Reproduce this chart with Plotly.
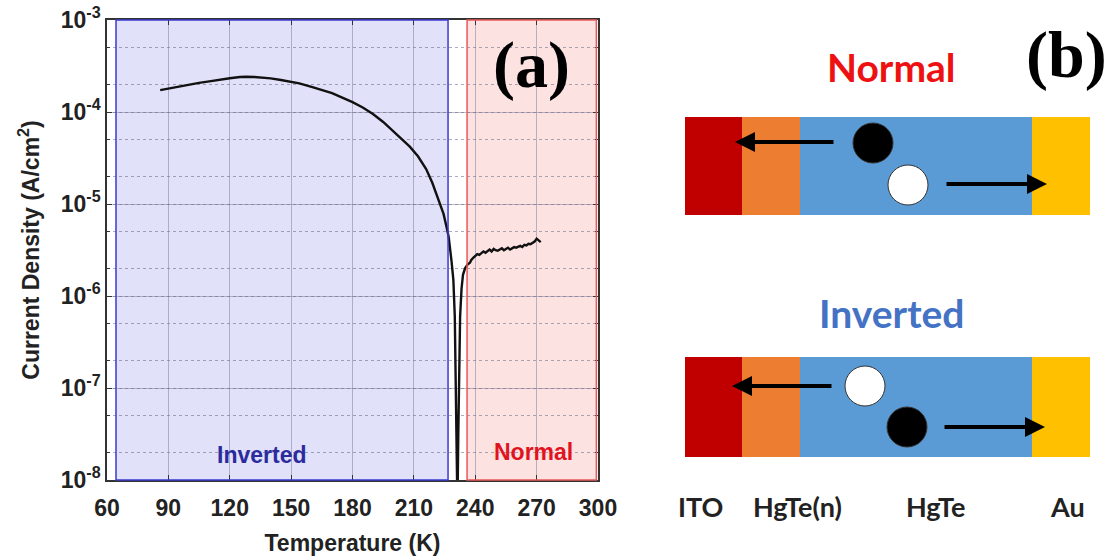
import plotly.graph_objects as go

W, H = 1111, 559

# ---------------- data ----------------
temperature_K = [86, 90, 95, 100, 105, 110, 115, 120, 125, 128, 132, 136, 140, 145, 150,
                 154, 160, 165, 170, 175, 180, 185, 190, 195, 200, 204, 208, 212, 216,
                 219, 221, 223, 224.5, 226, 227, 228.4, 229.3, 230.0, 230.5, 230.9, 231.3,
                 231.7, 232.1, 232.6, 233.3, 234.0, 235.0, 236.2, 237.4,
                 238, 239, 240, 241, 242, 243, 244, 245, 246, 247, 248, 249, 250, 251,
                 252, 253, 254, 255, 256, 257, 258, 259, 260, 261, 262, 263, 264, 265,
                 266, 267, 268, 269, 270, 271, 272]
current_density = [1.73e-4, 1.80e-4, 1.90e-4, 1.98e-4, 2.07e-4, 2.15e-4, 2.25e-4, 2.33e-4,
                   2.40e-4, 2.42e-4, 2.40e-4, 2.37e-4, 2.32e-4, 2.23e-4, 2.13e-4,
                   2.05e-4, 1.88e-4, 1.75e-4, 1.60e-4, 1.43e-4, 1.28e-4, 1.12e-4, 9.5e-5,
                   7.8e-5, 6.2e-5, 5.1e-5, 4.2e-5, 3.3e-5, 2.4e-5,
                   1.7e-5, 1.3e-5, 9.8e-6, 7.8e-6, 5.6e-6, 4.4e-6, 2.4e-6, 1.5e-6, 6e-7,
                   1.5e-7, 3e-8, 5e-9,
                   3e-8, 2e-7, 6e-7, 1.2e-6, 1.7e-6, 2.0e-6, 2.2e-6, 2.3e-6,
                   2.45e-6, 2.6e-6, 2.7e-6, 2.85e-6, 2.8e-6, 2.95e-6, 3.05e-6, 2.95e-6,
                   3.1e-6, 3.2e-6, 3.05e-6, 3.25e-6, 3.15e-6, 3.1e-6,
                   3.2e-6, 3.3e-6, 3.15e-6, 3.25e-6, 3.35e-6, 3.2e-6, 3.3e-6, 3.4e-6,
                   3.35e-6, 3.45e-6, 3.5e-6, 3.4e-6, 3.6e-6, 3.55e-6,
                   3.7e-6, 3.65e-6, 3.8e-6, 3.9e-6, 4.2e-6, 4.05e-6, 3.85e-6]

x_ticks = [60, 90, 120, 150, 180, 210, 240, 270, 300]
y_tick_vals = [1e-8, 1e-7, 1e-6, 1e-5, 1e-4, 1e-3]
y_tick_text = ["10<sup>-8</sup>", "10<sup>-7</sup>", "10<sup>-6</sup>",
               "10<sup>-5</sup>", "10<sup>-4</sup>", "10<sup>-3</sup>"]

inverted_range = [64.4, 226.7]
normal_range = [236.0, 299.2]

layer_names = ["ITO", "HgTe(n)", "HgTe", "Au"]
layer_colors = ["#c00000", "#ed7d31", "#5b9bd5", "#ffc000"]

# ---------------- helpers ----------------
def px(x):
    return x / W

def py(y):
    return 1 - y / H

SANS = "Liberation Sans"
DIAG = "Lato"

fig = go.Figure()
fig.add_trace(go.Scatter(x=temperature_K, y=current_density, mode="lines",
                         line=dict(color="#111111", width=2.4), showlegend=False))

shapes = []
annotations = []

def label(x, y, text, font, xref="paper", yref="paper"):
    return dict(x=x, y=y, xref=xref, yref=yref, text=text, showarrow=False,
                xanchor="center", yanchor="middle", font=font)

# shaded regions (fills under the grid, outlines on top)
shapes.append(dict(type="rect", xref="x", yref="y domain", x0=inverted_range[0], x1=inverted_range[1],
                   y0=0, y1=1, fillcolor="#e1e1fa", line=dict(width=0), layer="below"))
shapes.append(dict(type="rect", xref="x", yref="y domain", x0=normal_range[0], x1=normal_range[1],
                   y0=0, y1=1, fillcolor="#fde2e2", line=dict(width=0), layer="below"))
shapes.append(dict(type="rect", xref="x", yref="y domain", x0=inverted_range[0], x1=inverted_range[1],
                   y0=0, y1=1, fillcolor="rgba(0,0,0,0)", line=dict(color="#3a3ad0", width=1.5), layer="above"))
shapes.append(dict(type="rect", xref="x", yref="y domain", x0=normal_range[0], x1=normal_range[1],
                   y0=0, y1=1, fillcolor="rgba(0,0,0,0)", line=dict(color="#e85a5a", width=1.5), layer="above"))

annotations.append(label(135.3, -7.73, "Inverted",
                         dict(family=SANS, size=23, color="#2b2b9e", weight="bold"), "x", "y"))
annotations.append(label(268.7, -7.70, "Normal",
                         dict(family=SANS, size=23, color="#e0141e", weight="bold"), "x", "y"))
annotations.append(label(px(531), py(65), "<b>(a)</b>",
                         dict(family="Liberation Serif", size=66, color="#000000")))

# ---------------- panel (b): device diagrams ----------------
bounds = [685, 742, 800, 1032, 1090]
for top, bot in [(117, 215), (357, 457)]:
    for i in range(4):
        shapes.append(dict(type="rect", xref="paper", yref="paper",
                           x0=px(bounds[i]), x1=px(bounds[i + 1]), y0=py(bot), y1=py(top),
                           fillcolor=layer_colors[i], line=dict(width=0), layer="above"))

def circle(cx, cy, r, fill):
    return dict(type="circle", xref="paper", yref="paper",
                x0=px(cx - r), x1=px(cx + r), y0=py(cy + r), y1=py(cy - r),
                fillcolor=fill, line=dict(color="#333333", width=1), layer="above")

shapes.append(circle(873, 143, 20, "#000000"))
shapes.append(circle(908, 185, 20, "#ffffff"))
shapes.append(circle(865, 386, 20, "#ffffff"))
shapes.append(circle(907, 427, 20, "#000000"))

def arrow(x_head, x_tail, y):
    return dict(x=px(x_head), y=py(y), xref="paper", yref="paper", ax=x_tail - x_head, ay=0,
                showarrow=True, arrowhead=2, arrowsize=1, arrowwidth=4, arrowcolor="#000000", text="")

annotations.append(arrow(735, 835, 142))
annotations.append(arrow(1047, 945, 184))
annotations.append(arrow(732, 833, 386))
annotations.append(arrow(1045, 943, 427))

annotations.append(label(px(891), py(67), "Normal",
                         dict(family=DIAG, size=39, color="#ee1111", weight="bold")))
annotations.append(label(px(891), py(313), "Inverted",
                         dict(family=DIAG, size=39, color="#4472c4", weight="bold")))
annotations.append(label(px(1066), py(55), "<b>(b)</b>",
                         dict(family="Liberation Serif", size=66, color="#000000")))

label_x = [700, 797, 935, 1067]
for name, lx in zip(layer_names, label_x):
    annotations.append(label(px(lx), py(507), name,
                             dict(family=DIAG, size=27, color="#222222", weight="bold")))

grid_major = "rgba(110,110,140,0.45)"
grid_minor = "rgba(90,90,120,0.5)"

fig.update_layout(
    width=W, height=H,
    margin=dict(l=0, r=0, t=0, b=0),
    paper_bgcolor="white", plot_bgcolor="white",
    shapes=shapes, annotations=annotations,
    xaxis=dict(domain=[px(107), px(598)], range=[60, 300], tickvals=x_ticks, automargin=False,
               ticks="inside", ticklen=5, tickcolor="#333333", showline=True, linecolor="#333333",
               linewidth=1.5, mirror="ticks", showgrid=True, gridcolor=grid_major, gridwidth=1,
               zeroline=False, ticklabelstandoff=7,
               tickfont=dict(family=SANS, size=23, color="#222222", weight="bold"),
               title=dict(text="Temperature (K)", standoff=15,
                          font=dict(family=SANS, size=23, color="#222222", weight="bold"))),
    yaxis=dict(domain=[py(480), py(20)], type="log", range=[-8, -3], tickvals=y_tick_vals,
               ticktext=y_tick_text, ticks="inside", ticklen=5, tickcolor="#333333", automargin=False,
               showline=True, linecolor="#333333", linewidth=1.5, mirror="ticks",
               showgrid=True, gridcolor=grid_major, gridwidth=1, zeroline=False,
               minor=dict(ticks="inside", ticklen=3, tickcolor="#333333", showgrid=True,
                          gridcolor=grid_minor, griddash="dot", gridwidth=1),
               tickfont=dict(family=SANS, size=23, color="#222222", weight="bold"),
               title=dict(text="Current Density (A/cm<sup>2</sup>)", standoff=15,
                          font=dict(family=SANS, size=23, color="#222222", weight="bold"))),
)

fig.write_html("out.html")
